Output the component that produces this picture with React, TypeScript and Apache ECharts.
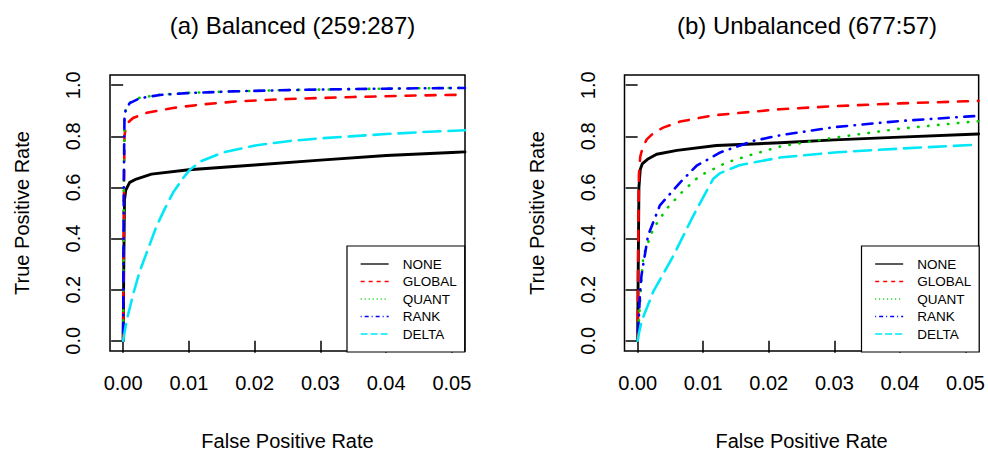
import React, { useEffect, useRef } from "react";
import * as echarts from "echarts";

type Pt = [number, number];

// ---- Panel (a) Balanced: [FPR, TPR] ----
const balNone: Pt[] = [[0,0],[0.0001,0.3],[0.0002,0.55],[0.0004,0.59],[0.001,0.62],[0.002,0.633],[0.0043,0.652],[0.01,0.669],[0.02,0.688],[0.03,0.707],[0.04,0.725],[0.05,0.737],[0.052,0.739]];
const balGlobal: Pt[] = [[0,0],[0.0001,0.5],[0.0002,0.8],[0.0004,0.838],[0.0008,0.855],[0.0015,0.872],[0.0036,0.892],[0.0076,0.911],[0.0117,0.924],[0.0173,0.937],[0.025,0.946],[0.035,0.954],[0.045,0.96],[0.052,0.963]];
const balQuant: Pt[] = [[0,0],[0.0001,0.6],[0.0002,0.87],[0.0004,0.91],[0.001,0.932],[0.0025,0.951],[0.0056,0.963],[0.0097,0.97],[0.0167,0.976],[0.025,0.981],[0.035,0.985],[0.045,0.988],[0.052,0.99]];
const balRank: Pt[] = [[0,0],[0.0001,0.62],[0.0002,0.87],[0.0004,0.905],[0.001,0.93],[0.0025,0.949],[0.0056,0.962],[0.0097,0.969],[0.0167,0.976],[0.025,0.981],[0.035,0.985],[0.045,0.988],[0.052,0.989]];
const balDelta: Pt[] = [[0,0],[0.0002,0.03],[0.0005,0.076],[0.0015,0.18],[0.0025,0.27],[0.0038,0.36],[0.0051,0.45],[0.0064,0.52],[0.0076,0.58],[0.009,0.633],[0.0101,0.668],[0.0118,0.702],[0.0152,0.737],[0.0203,0.765],[0.0254,0.782],[0.03,0.792],[0.0345,0.8],[0.04,0.809],[0.045,0.816],[0.052,0.824]];

// ---- Panel (b) Unbalanced: [FPR, TPR] ----
const unbNone: Pt[] = [[0,0],[0.0001,0.3],[0.0002,0.6],[0.0004,0.67],[0.0007,0.692],[0.0015,0.71],[0.0029,0.73],[0.006,0.745],[0.012,0.764],[0.0217,0.775],[0.03,0.786],[0.04,0.797],[0.05,0.807],[0.052,0.809]];
const unbGlobal: Pt[] = [[0,0],[0.0001,0.4],[0.0002,0.65],[0.0004,0.72],[0.0008,0.76],[0.0014,0.788],[0.0025,0.815],[0.0039,0.834],[0.0065,0.858],[0.0115,0.882],[0.0217,0.906],[0.03,0.918],[0.04,0.929],[0.05,0.937],[0.052,0.939]];
const unbQuant: Pt[] = [[0,0],[0.0003,0.12],[0.0006,0.25],[0.0009,0.335],[0.0024,0.439],[0.0044,0.516],[0.007,0.588],[0.0095,0.646],[0.0136,0.698],[0.0176,0.73],[0.0217,0.76],[0.03,0.795],[0.04,0.83],[0.05,0.855],[0.052,0.859]];
const unbRank: Pt[] = [[0,0],[0.0002,0.1],[0.0004,0.2],[0.0006,0.258],[0.0016,0.413],[0.0034,0.53],[0.0065,0.62],[0.009,0.685],[0.0126,0.737],[0.0176,0.782],[0.0217,0.804],[0.03,0.836],[0.04,0.86],[0.05,0.877],[0.052,0.88]];
const unbDelta: Pt[] = [[0,0],[0.0002,0.03],[0.0006,0.076],[0.0024,0.193],[0.0055,0.335],[0.0085,0.49],[0.0115,0.633],[0.0125,0.655],[0.0155,0.687],[0.0217,0.717],[0.03,0.737],[0.04,0.752],[0.05,0.765],[0.052,0.768]];

// ---- Labels / ticks ----
const methods = ["NONE", "GLOBAL", "QUANT", "RANK", "DELTA"];
const panelTitles = ["(a) Balanced (259:287)", "(b) Unbalanced (677:57)"];
const xTicks = [0, 0.01, 0.02, 0.03, 0.04, 0.05];
const yTicks = [0, 0.2, 0.4, 0.6, 0.8, 1.0];
const xName = "False Positive Rate";
const yName = "True Positive Rate";

const colors = ["#000000", "#FF0000", "#00CD00", "#0000FF", "#00E8F8"];
const plotDash: (number[] | "solid")[] = ["solid", [10, 10], [0.5, 9.5], [0.5, 7.5, 10, 7.5], [17, 8]];
const legendDash: (number[] | "solid")[] = ["solid", [4, 4], [1, 3], [1, 3, 4, 3], [7, 3]];

const FONT = "'Liberation Sans', Arial, Helvetica, sans-serif";

const App: React.FC = () => {
  const ref = useRef<HTMLDivElement>(null);

  useEffect(() => {
    if (!ref.current) return;
    const chart = echarts.init(ref.current, undefined, { renderer: "svg" });
    const panels = [
      [balNone, balGlobal, balQuant, balRank, balDelta],
      [unbNone, unbGlobal, unbQuant, unbRank, unbDelta],
    ];
    const gridLefts = [110, 624.5];
    const gridW = 355;
    const gridTop = 75;
    const gridH = 278;

    const series: any[] = [];
    panels.forEach((sets, p) => {
      sets.forEach((d, i) => {
        series.push({
          type: "line",
          name: methods[i],
          xAxisIndex: p,
          yAxisIndex: p,
          data: d,
          symbol: "none",
          silent: true,
          clip: true,
          itemStyle: { color: colors[i] },
          lineStyle: {
            color: colors[i],
            width: i === 0 ? 2.9 : 2.6,
            type: plotDash[i],
            cap: "round",
            join: "round",
          },
          z: 2 + i,
        });
      });
    });

    const legendData = methods.map((m, i) => ({
      name: m,
      itemStyle: { opacity: 0, color: "rgba(0,0,0,0)", borderWidth: 0 },
      lineStyle: { width: 1.3, type: legendDash[i], color: colors[i], cap: "butt" },
    }));

    const option: any = {
      animation: false,
      title: panelTitles.map((t, p) => ({
        text: t,
        left: gridLefts[p] + gridW / 2,
        top: 8,
        textAlign: "center",
        textStyle: { fontSize: 24, fontWeight: "normal", fontFamily: FONT, color: "#000" },
      })),
      grid: gridLefts.map((l) => ({
        left: l,
        top: gridTop,
        width: gridW,
        height: gridH,
        show: true,
        borderColor: "#000",
        borderWidth: 1.5,
        backgroundColor: "transparent",
      })),
      xAxis: gridLefts.map((_, p) => ({
        type: "value",
        gridIndex: p,
        min: -0.002,
        max: 0.052,
        axisLine: { show: false },
        axisTick: {
          show: true,
          length: 12,
          customValues: xTicks,
          lineStyle: { color: "#000", width: 1.5 },
        },
        axisLabel: {
          customValues: xTicks,
          formatter: (v: number) => v.toFixed(2),
          fontSize: 20,
          fontFamily: FONT,
          color: "#000",
          margin: 22,
        },
        splitLine: { show: false },
        name: xName,
        nameLocation: "middle",
        nameGap: 80,
        nameTextStyle: { fontSize: 20, fontFamily: FONT, color: "#000" },
      })),
      yAxis: gridLefts.map((_, p) => ({
        type: "value",
        gridIndex: p,
        min: -0.04,
        max: 1.04,
        axisLine: { show: false },
        axisTick: {
          show: true,
          length: 12,
          customValues: yTicks,
          lineStyle: { color: "#000", width: 1.5 },
        },
        axisLabel: {
          customValues: yTicks,
          formatter: (v: number) => v.toFixed(1),
          fontSize: 20,
          fontFamily: FONT,
          color: "#000",
          rotate: 90,
          margin: 27,
        },
        splitLine: { show: false },
        name: yName,
        nameLocation: "middle",
        nameGap: 78,
        nameTextStyle: { fontSize: 20, fontFamily: FONT, color: "#000" },
      })),
      legend: gridLefts.map((l) => ({
        left: l + 237,
        top: 246,
        orient: "vertical",
        itemWidth: 28,
        itemHeight: 14,
        itemGap: 3.5,
        padding: [11, 8, 11, 13],
        borderColor: "#000",
        borderWidth: 1.2,
        borderRadius: 0,
        backgroundColor: "#fff",
        selectedMode: false,
        textStyle: { fontSize: 13.5, fontFamily: FONT, color: "#000", padding: [0, 0, 0, 9] },
        data: legendData,
      })),
      series,
    };
    chart.setOption(option);
    return () => chart.dispose();
  }, []);

  return (
    <div
      ref={ref}
      style={{ position: "absolute", left: 0, top: 0, width: 988, height: 456, background: "#fff" }}
    />
  );
};

export default App;
